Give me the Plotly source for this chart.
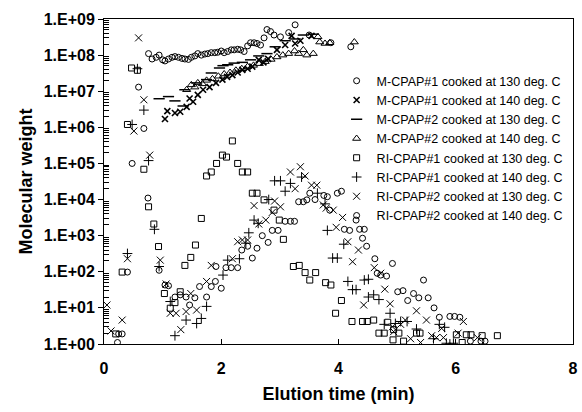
import plotly.graph_objects as go

# ---------------- data (elution time in min, molecular weight) ----------------
m1_130_x = [0.76,0.82,0.89,0.94,1.00,1.04,1.10,1.16,1.21,1.27,1.33,1.38,1.44,1.49,1.55,1.60,1.66,1.72,1.77,1.83,1.89,1.94,2.00,2.05,2.11,2.17,2.22,2.28,2.33,2.39,2.45,2.50,2.56,2.61,2.67,2.73,2.78,2.84,2.90,3.01,3.15,3.26,3.50,3.87,4.21]
m1_130_y = [1.1e8,7.8e7,8.7e7,1.0e8,7.4e7,6.9e7,7.8e7,8.7e7,9.1e7,8.7e7,8.1e7,7.8e7,7.6e7,8.7e7,9.5e7,1.1e8,1.0e8,1.07e8,1.1e8,1.17e8,1.17e8,1.2e8,1.3e8,1.17e8,1.26e8,1.4e8,1.4e8,1.45e8,1.4e8,1.26e8,1.8e8,2.2e8,2.2e8,2.1e8,1.9e8,3.0e8,5.1e8,4.5e8,3.6e8,3.2e8,4.2e8,6.9e8,3.6e8,2.2e8,1.7e8]

m1_140_x = [1.04,1.08,1.21,1.30,1.41,1.46,1.52,1.60,1.69,1.80,1.91,2.02,2.10,2.19,2.28,2.36,2.45,2.53,2.64,2.72,2.80,2.95,3.09,3.20,3.26,3.35,3.54]
m1_140_y = [1.7e6,2.8e6,2.5e6,2.7e6,3.7e6,6.3e6,5.1e6,7.9e6,1.1e7,1.3e7,1.7e7,2.1e7,2.5e7,2.8e7,3.3e7,3.9e7,4.2e7,4.8e7,7.4e7,6.3e7,7.9e7,1.4e8,1.9e8,3.4e8,2.1e8,2.5e8,3.4e8]

m2_130_x = [0.94,1.10,1.21,1.35,1.38,1.58,1.75,1.83,1.97,2.03,2.11,2.22,2.36,2.50,2.64,2.78,2.92,3.09,3.26,3.40,3.57]
m2_130_y = [6.2e6,7.1e6,5.4e6,3.9e6,1.1e7,1.7e7,2.1e7,3.2e7,4.4e7,5.1e7,5.4e7,6.0e7,6.3e7,7.4e7,9.5e7,1.1e8,1.7e8,2.5e8,2.8e8,3.6e8,3.8e8]

m2_140_x = [1.41,1.49,1.55,1.60,1.68,1.75,1.85,1.95,2.05,2.15,2.25,2.35,2.45,2.55,2.65,2.75,2.85,2.95,3.05,3.15,3.25,3.32,3.40,3.46,3.57,3.65,3.68,3.77,3.85,4.27]
m2_140_y = [1.1e7,1.5e7,1.3e7,1.7e7,1.6e7,2.0e7,2.2e7,2.6e7,3.0e7,3.3e7,3.8e7,4.2e7,4.8e7,5.2e7,5.8e7,6.6e7,7.6e7,8.9e7,1.0e8,1.1e8,1.3e8,1.1e8,1.4e8,1.0e8,1.1e8,3.2e8,2.3e8,2.1e8,2.2e8,2.3e8]

ri1_130_x = [0.20,0.31,0.40,0.47,0.57,0.68,0.76,0.85,0.93,1.03,1.13,1.21,1.30,1.38,1.48,1.56,1.66,1.75,1.83,1.92,2.02,2.09,2.19,2.28,2.36,2.45,2.53,2.61,2.73,2.90,2.99,3.06,3.23,3.33,3.43,3.51,3.61,3.78,3.87,3.95,4.05,4.23,4.41,4.49,4.60,4.69,4.78,4.84,4.93,4.94,5.03,5.11,5.33,5.39,6.01,6.11,6.18,6.26,6.45,6.71]
ri1_130_y = [1.9,98,1.2e6,4.4e7,3.8e7,6.9e4,6.3e3,2.1e3,5.0e2,25,9.8,14,28,1.5e2,2.5e2,5.5e2,3.0e3,4.5e4,5.8e4,1.0e5,1.7e5,1.5e5,4.2e5,1.0e5,5.8e4,5.8e4,1.5e4,1.5e4,9.8e3,5.1e3,2.7e3,7.9e2,1.4e2,1.5e2,95,59,95,50,43,7.1,16,4.2,4.2,4.2,4.6,2.0,2.0,4.0,1.3,2.5,2.0,1.2,2.0,2.0,1.8,1.1,1.8,1.8,1.7,1.7]

ri1_140_x = [0.40,0.48,0.57,0.68,0.76,0.86,0.94,1.13,1.21,1.40,1.58,1.66,1.75,2.03,2.11,2.31,2.42,2.47,2.56,2.63,2.81,2.91,3.01,3.09,3.18,3.37,3.64,3.77,3.81,3.90,3.98,4.09,4.16,4.24,4.30,4.44,4.51,4.51,4.60,4.69,4.78,4.88,4.97,5.06,5.17,5.33,5.62,5.72,5.81,5.84,5.90,5.96]
ri1_140_y = [3.2e2,1.2e6,4.2e7,3.0e6,1.2e5,1.5e3,1.4e2,15,1.7,4.6,3.7,5.1,11,81,2.1e2,2.3e2,6.2e2,1.2e3,2.7e3,2.2e3,1.0e4,3.3e4,3.3e4,1.7e4,2.8e4,4.2e4,1.5e4,7.6e3,1.4e3,2.4e2,2.4e2,5.8e2,54,32,32,59,62,20,23,17,3.5,7.1,3.7,4.2,4.2,2.6,1.4,3.5,2.9,1.05,1.0,1.05]

ri2_130_x = [0.05,0.12,0.31,0.40,0.51,0.59,0.68,0.78,0.96,1.06,1.13,1.23,1.31,1.40,1.48,1.58,1.75,1.83,2.19,2.28,2.36,2.45,2.56,2.64,2.76,2.87,2.91,3.01,3.18,3.26,3.35,3.43,3.54,3.63,3.74,3.79,3.91,3.96,4.07,4.16,4.24,4.34,4.43,4.61,4.72,4.79,4.88,4.92,4.94,5.06,5.14,5.23,5.33,5.40,5.50,5.59,5.67,5.76,5.79,6.04,6.13,6.37]
ri2_130_y = [12,2.3,4.6,2.3e2,7.9e5,3.0e8,5.8e6,1.7e5,2.1e2,46,7.1,7.1,2.5,7.9,25,8.7,54,1.5e2,2.3e2,6.8e2,7.6e2,7.6e2,6.8e3,2.1e3,2.7e3,4.4e3,9.1e3,6.3e3,5.8e4,2.0e4,8.1e4,4.5e4,2.5e4,2.5e4,7.1e3,5.8e3,5.1e3,1.7e3,3.2e3,6.8e2,1.9e2,4.0e2,12,1.3e2,91,33,13,3.0,2.2,3.5,4.6,1.4,8.3,1.1,4.6,1.7,1.5,2.7,1.5,2.0,4.2,1.5]

ri2_140_x = [0.23,0.25,0.31,0.40,0.48,0.59,0.68,0.75,0.94,1.04,1.10,1.21,1.30,1.40,1.46,1.55,1.63,1.75,1.83,1.90,2.00,1.91,2.08,2.17,2.28,2.35,2.45,2.53,2.61,2.70,2.80,2.87,2.97,3.09,3.18,3.25,3.32,3.40,3.46,3.51,3.60,3.75,3.81,3.85,3.98,4.05,4.10,4.19,4.30,4.36,4.44,4.41,4.48,4.62,4.66,4.72,4.82,4.92,5.01,5.10,5.18,5.28,5.37,5.45,5.53,5.63,5.72,5.90,5.98,6.07,6.25,6.43,6.50]
ri2_140_y = [1.1,1.9,1.9,98,1.0e5,1.3e7,9.3e5,1.1e4,1.1e2,43,41,20,23,20,12,19,39,20,39,54,35,1.4e2,1.3e2,1.3e2,1.3e2,4.0e2,5.1e2,2.4e2,4.5e2,1.0e3,6.5e2,1.4e3,1.4e3,2.5e3,2.5e3,2.5e3,8.7e3,8.7e3,9.8e3,1.5e4,1.0e4,1.3e4,1.2e4,5.1e3,1.5e4,1.7e4,1.5e3,1.4e3,2.7e3,1.5e3,1.5e3,8.5e2,5.1e2,2.3e2,91,81,76,1.7e2,28,30,16,25,19,59,19,10,5.5,5.8,5.8,5.5,1.2,1.2,1.2]

series_names = [
    "M-CPAP#1 cooked at 130 deg. C",
    "M-CPAP#1 cooked at 140 deg. C",
    "M-CPAP#2 cooked at 130 deg. C",
    "M-CPAP#2 cooked at 140 deg. C",
    "RI-CPAP#1 cooked at 130 deg. C",
    "RI-CPAP#1 cooked at 140 deg. C",
    "RI-CPAP#2 cooked at 130 deg. C",
    "RI-CPAP#2 cooked at 140 deg. C",
]

y_tick_vals = [1, 10, 100, 1e3, 1e4, 1e5, 1e6, 1e7, 1e8, 1e9]
y_tick_text = ["1.E+00", "1.E+01", "1.E+02", "1.E+03", "1.E+04", "1.E+05",
               "1.E+06", "1.E+07", "1.E+08", "1.E+09"]
x_tick_vals = [0, 2, 4, 6, 8]
x_tick_text = ["0", "2", "4", "6", "8"]

# minor log ticks (2..9 within each decade)
y_minor_vals = [m * d for d in y_tick_vals[:-1] for m in range(2, 10)]

# ---------------- styling ----------------
xs = [m1_130_x, m1_140_x, m2_130_x, m2_140_x, ri1_130_x, ri1_140_x, ri2_130_x, ri2_140_x]
ys = [m1_130_y, m1_140_y, m2_130_y, m2_140_y, ri1_130_y, ri1_140_y, ri2_130_y, ri2_140_y]
symbols = ["circle-open", "x-thin-open", "line-ew-open", "triangle-up-open",
           "square-open", "cross-thin-open", "x-thin-open", "circle-open"]
sizes = [6, 6, 8, 7, 6, 7, 7, 6]
widths = [1, 1.6, 1.5, 1, 1, 1, 1, 1]

FONT = "Liberation Sans, Arial, sans-serif"

fig = go.Figure()
for name, x, y, sym, sz, w in zip(series_names, xs, ys, symbols, sizes, widths):
    fig.add_trace(go.Scatter(
        x=x, y=y, mode="markers", name=name,
        marker=dict(symbol=sym, size=sz, color="black",
                    line=dict(color="black", width=w)),
    ))

fig.update_layout(
    width=582, height=412,
    margin=dict(l=104, r=4, t=19, b=68),
    paper_bgcolor="white", plot_bgcolor="white",
    font=dict(family=FONT, color="black"),
    showlegend=True,
    legend=dict(
        x=0.496, y=0.855, xanchor="left", yanchor="top",
        bgcolor="rgba(0,0,0,0)", borderwidth=0,
        font=dict(family=FONT, size=12.5, color="black"),
        itemwidth=30, tracegroupgap=0,
    ),
)

fig.update_xaxes(
    range=[0, 8], tickvals=x_tick_vals, ticktext=x_tick_text,
    showgrid=False, zeroline=False,
    showline=True, linecolor="black", linewidth=1, mirror=True,
    ticks="inside", ticklen=5, tickcolor="black",
    ticklabelstandoff=10, ticklabeloverflow="allow",
    tickfont=dict(family=FONT, size=16, color="black", weight="bold"),
    title=dict(text="<b>Elution time (min)</b>", font=dict(family=FONT, size=18), standoff=11),
)
fig.update_yaxes(
    type="log", range=[0, 9], tickvals=y_tick_vals, ticktext=y_tick_text,
    showgrid=False, zeroline=False,
    showline=True, linecolor="black", linewidth=1, mirror=True,
    ticks="outside", ticklen=5, tickcolor="black",
    minor=dict(ticks="inside", ticklen=5, tickwidth=1, tickcolor="black",
               tickvals=y_minor_vals, showgrid=False),
    tickfont=dict(family=FONT, size=16, color="black", weight="bold"),
    title=dict(text="<b>Molecular weight</b>", font=dict(family=FONT, size=18), standoff=6),
)

fig.write_html("out.html")
